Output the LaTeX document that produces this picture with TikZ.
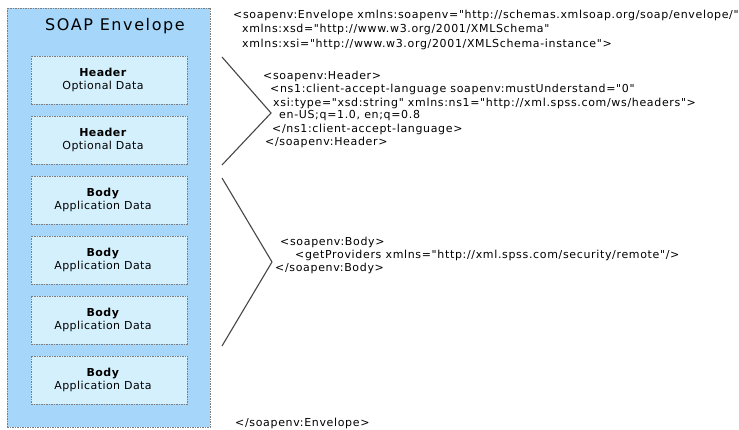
\documentclass[tikz,border=0pt]{standalone}
\usepackage{fontspec}
\setmainfont{DejaVu Sans}
\newfontfamily\xmlfont[LetterSpace=6]{DejaVu Sans}
\newfontfamily\partfont[LetterSpace=4]{DejaVu Sans}
\newfontfamily\titlefont[LetterSpace=10]{DejaVu Sans}
\usepackage{xcolor}
\definecolor{envfill}{RGB}{166,214,250}
\definecolor{partfill}{RGB}{213,240,253}
\definecolor{edgegray}{RGB}{125,125,125}
\definecolor{brack}{RGB}{70,70,70}

\begin{document}
\begin{tikzpicture}[x=1pt, y=-1pt,
  envbox/.style={draw=edgegray, dash pattern=on 1.5pt off 1pt, fill=envfill, minimum width=203pt, minimum height=419pt, inner sep=0pt},
  partbox/.style={draw=edgegray, dash pattern=on 1.5pt off 1pt, fill=partfill, minimum width=156pt, minimum height=48pt, inner sep=0pt},
  parttext/.style={align=center, inner sep=0pt, font=\partfont\fontsize{11}{13}\selectfont},
  xml/.style={anchor=west, inner sep=0pt, font=\xmlfont\fontsize{11}{12}\selectfont}]
\useasboundingbox (0,0) rectangle (739,430);

% envelope and its parts
\node [envbox] (env) at (108.5,217.5) {};
\node [font=\titlefont\fontsize{16}{18}\selectfont] (title) at (115,26.5) {SOAP Envelope};
\node [partbox] (hdr1) at (109,80) {};
\node [partbox] (hdr2) at (109,140) {};
\node [partbox] (bdy1) at (109,200) {};
\node [partbox] (bdy2) at (109,260) {};
\node [partbox] (bdy3) at (109,320) {};
\node [partbox] (bdy4) at (109,380) {};
\node [parttext] (hdr1t) at ([xshift=-6pt]hdr1.center) {\textbf{Header}\\Optional Data};
\node [parttext] (hdr2t) at ([xshift=-6pt]hdr2.center) {\textbf{Header}\\Optional Data};
\node [parttext] (bdy1t) at ([xshift=-6pt]bdy1.center) {\textbf{Body}\\Application Data};
\node [parttext] (bdy2t) at ([xshift=-6pt]bdy2.center) {\textbf{Body}\\Application Data};
\node [parttext] (bdy3t) at ([xshift=-6pt]bdy3.center) {\textbf{Body}\\Application Data};
\node [parttext] (bdy4t) at ([xshift=-6pt]bdy4.center) {\textbf{Body}\\Application Data};

% brackets
\draw [brack, line width=1.1pt] (222,57) -- (271,113) -- (222,165);
\draw [brack, line width=1.1pt] (222,178) -- (272,262) -- (222,346);

% xml listing
\node [xml] (env1) at (233,15) {<soapenv:Envelope xmlns:soapenv="http://schemas.xmlsoap.org/soap/envelope/"};
\node [xml] (env2) at (242,29.5) {xmlns:xsd="http://www.w3.org/2001/XMLSchema"};
\node [xml] (env3) at (242,44) {xmlns:xsi="http://www.w3.org/2001/XMLSchema-instance">};
\node [xml] (hd1) at (263,76) {<soapenv:Header>};
\node [xml] (hd2) at (270,89) {<ns1:client-accept-language soapenv:mustUnderstand="0"};
\node [xml] (hd3) at (273,103) {xsi:type="xsd:string" xmlns:ns1="http://xml.spss.com/ws/headers">};
\node [xml] (hd4) at (279,116) {en-US;q=1.0, en;q=0.8};
\node [xml] (hd5) at (272,129) {</ns1:client-accept-language>};
\node [xml] (hd6) at (265,142) {</soapenv:Header>};
\node [xml] (bd1) at (280,242) {<soapenv:Body>};
\node [xml] (bd2) at (295,255) {<getProviders xmlns="http://xml.spss.com/security/remote"/>};
\node [xml] (bd3) at (275,268) {</soapenv:Body>};
\node [xml] (env4) at (235,423) {</soapenv:Envelope>};
\end{tikzpicture}
\end{document}
